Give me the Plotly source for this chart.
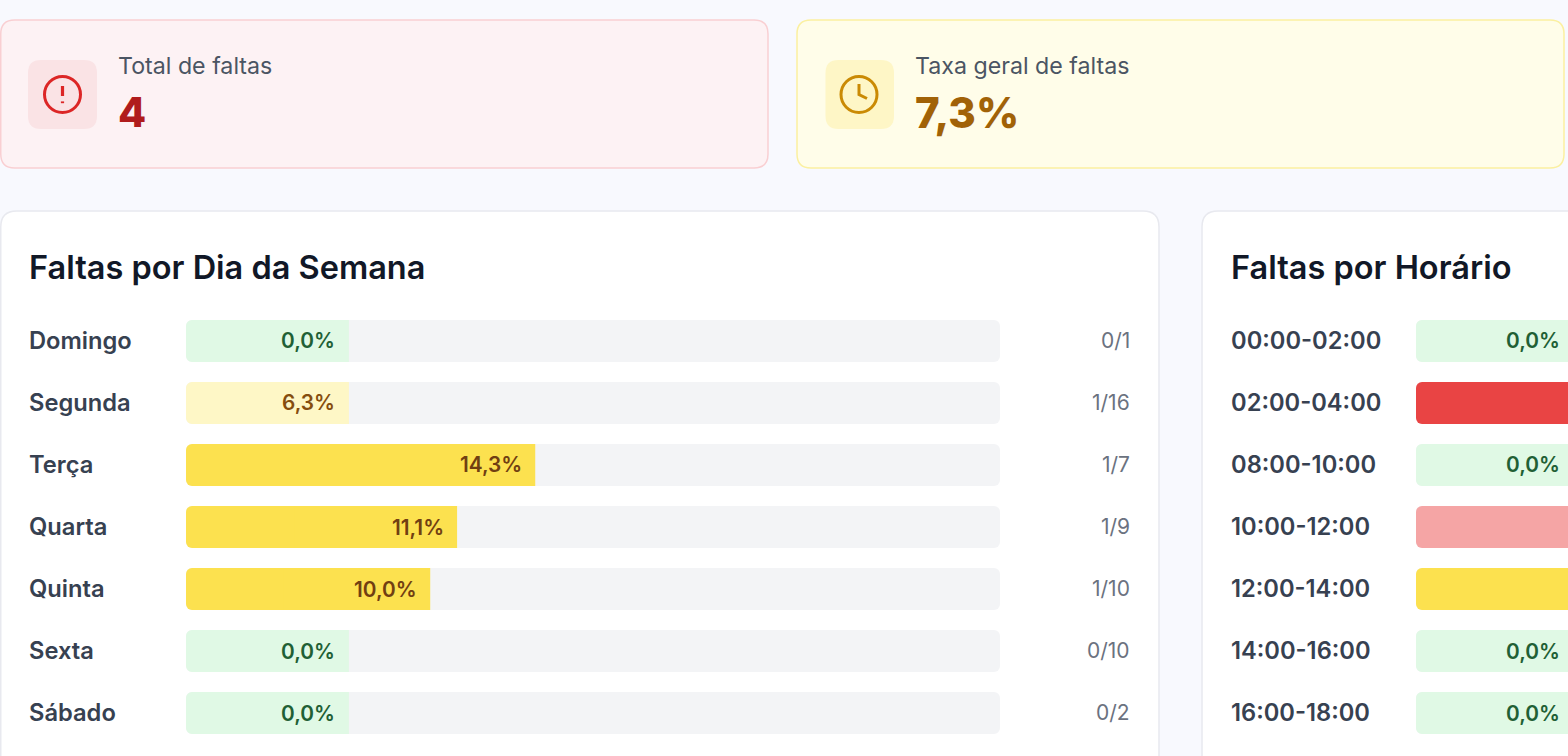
import plotly.graph_objects as go

W, H = 1568, 756
FONT = "Inter"

# ---- data ----
total_label = "Total de faltas"
total_value = "4"
rate_label = "Taxa geral de faltas"
rate_value = "7,3%"

day_title = "Faltas por Dia da Semana"
day_names = ["Domingo", "Segunda", "Terça", "Quarta", "Quinta", "Sexta", "Sábado"]
day_pct = [0.0, 6.3, 14.3, 11.1, 10.0, 0.0, 0.0]
day_counts = ["0/1", "1/16", "1/7", "1/9", "1/10", "0/10", "0/2"]

hour_title = "Faltas por Horário"
hour_names = ["00:00-02:00", "02:00-04:00", "08:00-10:00", "10:00-12:00",
              "12:00-14:00", "14:00-16:00", "16:00-18:00"]
# only the colour band of the non-zero rows can be seen; values are estimates
hour_pct = [0.0, 100.0, 0.0, 25.0, 12.5, 0.0, 0.0]

MIN_BAR = 6.67      # shortest bar drawn, in percent units
DAY_MAX = 33.33     # full track of the day chart
HOUR_VIEW = 6.41    # part of the hour chart that is inside the picture


def band(v):
    if v == 0:
        return "#e0f9e5", "#1f6035"
    if v < 10:
        return "#fef7c6", "#854d0e"
    if v < 20:
        return "#fce14f", "#713f12"
    if v < 50:
        return "#f5a5a5", "#7f1d1d"
    return "#e94444", "#ffffff"


def px(x):
    return x / W


def py(y):
    return 1 - y / H


def rrect(x0, y0, x1, y1, r, fill, line=None, lw=1.5):
    X0, X1, Y0, Y1 = px(x0), px(x1), py(y0), py(y1)
    rx, ry = r / W, r / H
    d = (f"M{X0 + rx},{Y0} L{X1 - rx},{Y0} Q{X1},{Y0} {X1},{Y0 - ry} "
         f"L{X1},{Y1 + ry} Q{X1},{Y1} {X1 - rx},{Y1} L{X0 + rx},{Y1} "
         f"Q{X0},{Y1} {X0},{Y1 + ry} L{X0},{Y0 - ry} Q{X0},{Y0} {X0 + rx},{Y0} Z")
    return dict(type="path", xref="paper", yref="paper", path=d, fillcolor=fill,
                line=dict(color=line or fill, width=lw if line else 0), layer="below")


def ring(cx, cy, r, color, lw=3):
    return dict(type="circle", xref="paper", yref="paper", x0=px(cx - r), x1=px(cx + r),
                y0=py(cy + r), y1=py(cy - r), line=dict(color=color, width=lw), layer="above")


def seg(pts, color, lw=3):
    d = "M" + " L".join(f"{px(a)},{py(b)}" for a, b in pts)
    return dict(type="path", xref="paper", yref="paper", path=d,
                line=dict(color=color, width=lw), layer="above")


def text(x, y, s, size, color, weight=400, anchor="left"):
    return dict(xref="paper", yref="paper", x=px(x), y=py(y), text=s, showarrow=False,
                xanchor=anchor, yanchor="middle", align=anchor, borderpad=0, borderwidth=0,
                font=dict(family=FONT, size=size, color=color, weight=weight))


fig = go.Figure()


def pill(names, widths, colors, xa, ya, round_right):
    """Bars from 0 to width: plotly rounds only the far end of a bar, so each one
    is drawn as two overlapping halves growing away from a point inside it."""
    common = dict(y=names, orientation="h", xaxis=xa, yaxis=ya, width=42 / 62,
                  hoverinfo="skip", showlegend=False)
    fig.add_trace(go.Bar(x=[-w * 0.6 for w in widths], base=[w * 0.6 for w in widths],
                         marker=dict(color=colors, cornerradius=6, line_width=0), **common))
    fig.add_trace(go.Bar(x=[w * 0.6 for w in widths], base=[w * 0.4 for w in widths],
                         marker=dict(color=colors, cornerradius=6 if round_right else 0, line_width=0), **common))


def add_chart(names, pct, xa, ya, full):
    pill(names, [full] * len(names), ["#f3f4f6"] * len(names), xa, ya, True)
    pill(names, [max(v, MIN_BAR) for v in pct], [band(v)[0] for v in pct], xa, ya, False)


add_chart(day_names, day_pct, "x", "y", DAY_MAX)
add_chart(hour_names, hour_pct, "x2", "y2", 100)

shapes = [
    rrect(0.75, 20, 768, 168, 14, "#fdf2f4", "#f9cfd2"),
    rrect(797, 20, 1564, 168, 14, "#fffde9", "#fbf0a0"),
    rrect(28, 60, 97, 129, 13, "#fae3e5"),
    rrect(825.5, 60, 894, 129, 13, "#fef6c6"),
    rrect(0.75, 211, 1159, 800, 16, "#ffffff", "#e8e9ef"),
    rrect(1202, 211, 1640, 800, 16, "#ffffff", "#e8e9ef"),
    ring(62.5, 94.5, 18, "#dc2626"),
    seg([(62.5, 86), (62.5, 96)], "#dc2626", 3.2),
    seg([(62.5, 101.4), (62.5, 103.2)], "#dc2626", 3.2),
    ring(859, 94.5, 18, "#ca8a04"),
    seg([(859, 84), (859, 94.5), (867, 98.5)], "#ca8a04"),
]

anns = [
    text(118, 66.3, total_label, 23.2, "#4b5563"),
    text(117.5, 112, total_value, 41, "#b01c1c", 800),
    text(915, 66.3, rate_label, 23.2, "#4b5563"),
    text(915, 112, rate_value, 42, "#a16207", 800),
    text(29, 267.2, day_title, 32.5, "#111827", 600),
    text(1231, 267.2, hour_title, 32.5, "#111827", 600),
]

for i, (n, v, c) in enumerate(zip(day_names, day_pct, day_counts)):
    yc = 340.8 + 62 * i
    anns.append(text(29, yc, n, 23.7, "#374151", 600))
    anns.append(text(1130, yc, c, 21, "#6b7280", 400, "right"))
    anns.append(dict(xref="x", yref="y", x=max(v, MIN_BAR), y=n, text=f"{v:.1f}%".replace(".", ","),
                     showarrow=False, xanchor="right", yanchor="middle", xshift=-12.5, borderpad=0,
                     font=dict(family=FONT, size=20.8, color=band(v)[1], weight=600)))

for i, (n, v) in enumerate(zip(hour_names, hour_pct)):
    yc = 340.8 + 62 * i
    anns.append(text(1231, yc, n, 23.7, "#374151", 600))
    if v == 0:
        anns.append(dict(xref="x2", yref="y2", x=HOUR_VIEW, y=n, text=f"{v:.1f}%".replace(".", ","),
                         showarrow=False, xanchor="right", yanchor="middle", xshift=-7.5, borderpad=0,
                         font=dict(family=FONT, size=20.8, color=band(v)[1], weight=600)))

rows_dom = [py(744), py(310)]
fig.update_layout(
    width=W, height=H, autosize=False, margin=dict(l=0, r=0, t=0, b=0, pad=0),
    paper_bgcolor="#f8f9fe", plot_bgcolor="rgba(0,0,0,0)",
    barmode="overlay", showlegend=False,
    font=dict(family=FONT),
    xaxis=dict(domain=[px(186), px(1000)], range=[0, DAY_MAX], visible=False, fixedrange=True),
    yaxis=dict(domain=rows_dom, categoryorder="array", categoryarray=day_names, autorange="reversed",
               visible=False, fixedrange=True, anchor="x"),
    xaxis2=dict(domain=[px(1416), 1], range=[0, HOUR_VIEW], visible=False, fixedrange=True, anchor="y2"),
    yaxis2=dict(domain=rows_dom, categoryorder="array", categoryarray=hour_names, autorange="reversed",
                visible=False, fixedrange=True, anchor="x2"),
    shapes=shapes, annotations=anns,
)

fig.write_html("out.html", config=dict(displayModeBar=False),
               post_script="document.body.style.margin='0';document.body.style.overflow='hidden';document.body.style.background='#f8f9fe';")
